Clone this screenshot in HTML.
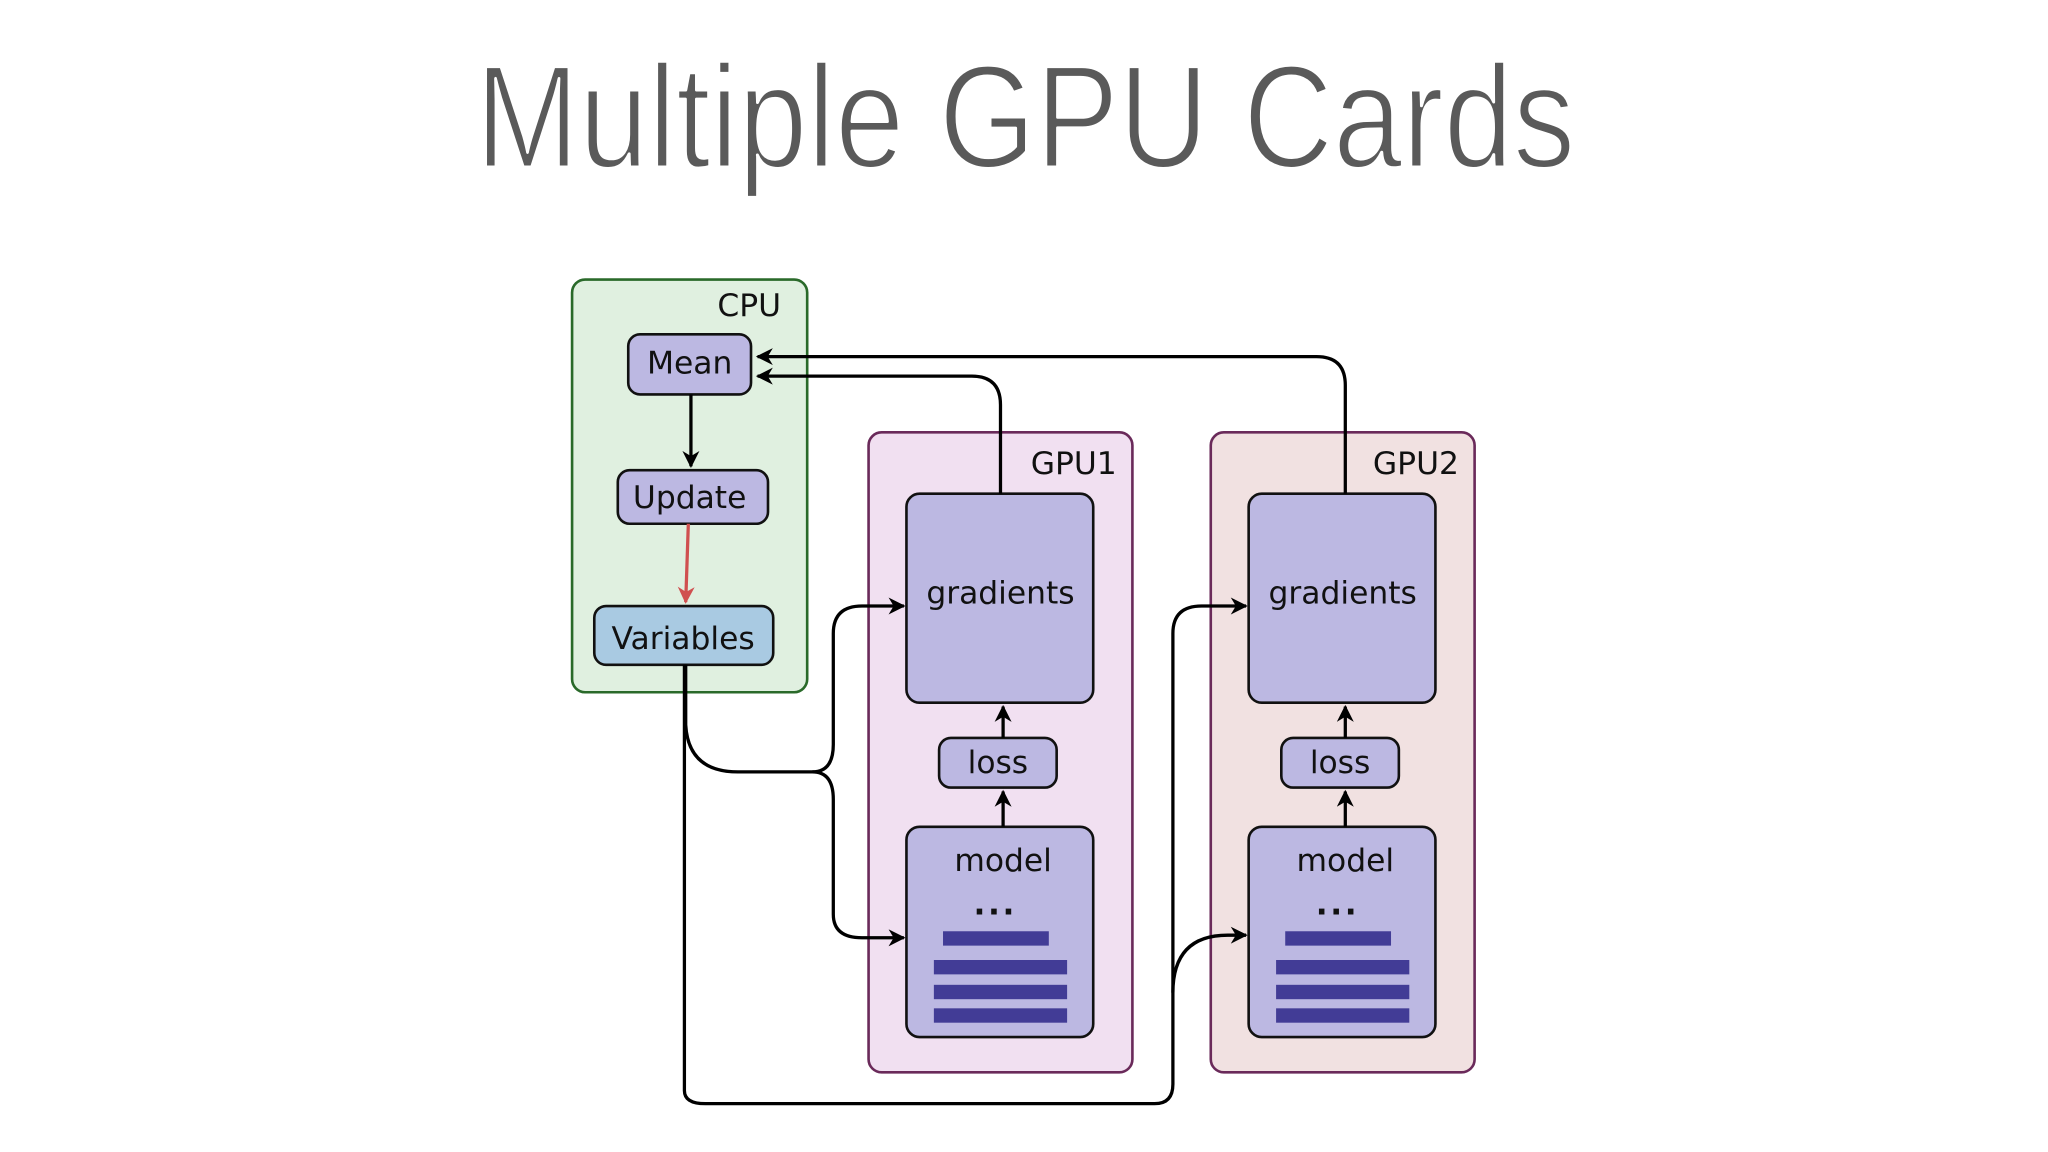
<!DOCTYPE html>
<html><head><meta charset="utf-8"><style>html,body{margin:0;padding:0;background:#fff;}svg{display:block}</style></head>
<body>
<svg width="2048" height="1152" viewBox="0 0 1568 882" preserveAspectRatio="none" xmlns="http://www.w3.org/2000/svg">
<defs>
<marker id="a" viewBox="0 0 10 10" refX="9" refY="5" markerWidth="15" markerHeight="13" markerUnits="userSpaceOnUse" orient="auto"><path d="M0,0 L10,5 L0,10 L3,5 z" fill="#000"/></marker>
<marker id="ar" viewBox="0 0 10 10" refX="9" refY="5" markerWidth="15" markerHeight="13" markerUnits="userSpaceOnUse" orient="auto"><path d="M0,0 L10,5 L0,10 L3,5 z" fill="#d05050"/></marker>
</defs>
<text x="785" y="128" text-anchor="middle" font-family="Liberation Sans, sans-serif" font-size="112" fill="#5a5a5a" stroke="#fff" stroke-width="2.5" stroke-linejoin="round" textLength="842" lengthAdjust="spacingAndGlyphs">Multiple GPU Cards</text>

<g font-family="DejaVu Sans, sans-serif" font-size="24" fill="#111">
<rect x="438" y="214" width="180" height="316" rx="10" fill="#e0f0e0" stroke="#2a6a2a" stroke-width="2"/>
<text x="598" y="242" text-anchor="end">CPU</text>
<rect x="665" y="331" width="202" height="490" rx="10" fill="#f1e0f1" stroke="#6a2a5a" stroke-width="2"/>
<text x="855" y="363" text-anchor="end">GPU1</text>
<rect x="927" y="331" width="202" height="490" rx="10" fill="#f1e1e1" stroke="#6a2a5a" stroke-width="2"/>
<text x="1117" y="363" text-anchor="end">GPU2</text>

<rect x="481" y="256" width="94" height="46" rx="9" fill="#bcb8e2" stroke="#111" stroke-width="2"/>
<text x="528" y="286" text-anchor="middle">Mean</text>
<rect x="473" y="360" width="115" height="41" rx="9" fill="#bcb8e2" stroke="#111" stroke-width="2"/>
<text x="528" y="389" text-anchor="middle">Update</text>
<rect x="455" y="464" width="137" height="45" rx="9" fill="#a9cae2" stroke="#111" stroke-width="2"/>
<text x="523" y="497" text-anchor="middle">Variables</text>

<g id="g1">
<rect x="694" y="378" width="143" height="160" rx="10" fill="#bcb8e2" stroke="#111" stroke-width="2"/>
<text x="766" y="462" text-anchor="middle">gradients</text>
<rect x="719" y="565" width="90" height="38" rx="9" fill="#bcb8e2" stroke="#111" stroke-width="2"/>
<text x="764" y="592" text-anchor="middle">loss</text>
<rect x="694" y="633" width="143" height="161" rx="10" fill="#bcb8e2" stroke="#111" stroke-width="2"/>
<text x="768" y="667" text-anchor="middle">model</text>
<text x="762" y="700" text-anchor="middle" font-weight="bold" letter-spacing="2">...</text>
<rect x="722" y="713" width="81" height="11" fill="#423c96"/>
<rect x="715" y="735" width="102" height="11" fill="#423c96"/>
<rect x="715" y="754" width="102" height="11" fill="#423c96"/>
<rect x="715" y="772" width="102" height="11" fill="#423c96"/>
</g>
<use href="#g1" x="262"/>
</g>

<g fill="none" stroke="#000" stroke-width="2.5">
<path d="M766,378 V310 Q766,288 744,288 H580" marker-end="url(#a)"/>
<path d="M1030,378 V295 Q1030,273 1008,273 H580" marker-end="url(#a)"/>
<path d="M529,302 V357" marker-end="url(#a)"/>
<path d="M527,401 L525,461" stroke="#d05050" marker-end="url(#ar)"/>
<path d="M768,633 V606" marker-end="url(#a)"/>
<path d="M768,565 V541" marker-end="url(#a)"/>
<path d="M1030,633 V606" marker-end="url(#a)"/>
<path d="M1030,565 V541" marker-end="url(#a)"/>
<path d="M525,509 V555 Q527,591 565,591 H622 Q638,591 638,570 V485 Q638,464 660,464 H692" marker-end="url(#a)"/>
<path d="M622,591 Q638,591 638,612 V700 Q638,718 660,718 H692" marker-end="url(#a)"/>
<path d="M524,509 V835 Q524,845 540,845 H884 Q898,845 898,830 V760 Q898,716 940,716 H954" marker-end="url(#a)"/>
<path d="M898,760 V485 Q898,464 920,464 H954" marker-end="url(#a)"/>
</g>
</svg>
</body></html>
